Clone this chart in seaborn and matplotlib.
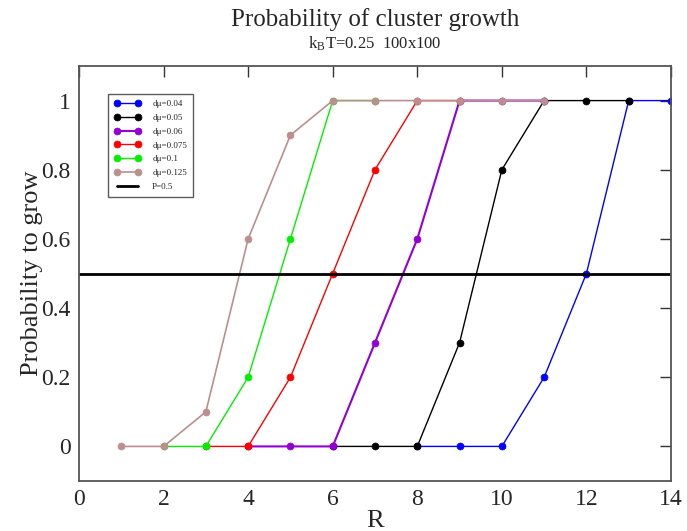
import matplotlib
matplotlib.use("Agg")
import matplotlib.pyplot as plt
import seaborn as sns
import pandas as pd
from matplotlib.ticker import MultipleLocator, FormatStrFormatter

labels = ["dμ=0.04", "dμ=0.05", "dμ=0.06", "dμ=0.075", "dμ=0.1", "dμ=0.125"]
colors = ["#0000ff", "#000000", "#9400d3", "#ff0000", "#00f000", "#bc8f8f"]

r_004 = [8, 9, 10, 11, 12, 13, 14]
p_004 = [0, 0, 0, 0.2, 0.5, 1, 1]
r_005 = [6, 7, 8, 9, 10, 11, 12, 13]
p_005 = [0, 0, 0, 0.3, 0.8, 1, 1, 1]
r_006 = [4, 5, 6, 7, 8, 9, 10, 11]
p_006 = [0, 0, 0, 0.3, 0.6, 1, 1, 1]
r_0075 = [3, 4, 5, 6, 7, 8, 9]
p_0075 = [0, 0, 0.2, 0.5, 0.8, 1, 1]
r_01 = [2, 3, 4, 5, 6, 7]
p_01 = [0, 0, 0.2, 0.6, 1, 1]
r_0125 = [1, 2, 3, 4, 5, 6, 7, 8, 9, 10, 11]
p_0125 = [0, 0, 0.1, 0.6, 0.9, 1, 1, 1, 1, 1, 1]

series_r = [r_004, r_005, r_006, r_0075, r_01, r_0125]
series_p = [p_004, p_005, p_006, p_0075, p_01, p_0125]

p_half = 0.5
x_range = [0, 14]

sns.set_style("white")
plt.rcParams['font.family'] = ['Liberation Serif', 'DejaVu Serif']
plt.rcParams['mathtext.fontset'] = 'stix'

fig = plt.figure(figsize=(6.87, 5.31), dpi=100)
ax = fig.add_axes([79 / 687, 1 - 481 / 531, 592 / 687, 415 / 531])

lws = [1.0, 1.0, 1.5, 1.0, 1.0, 1.2]
for lab, col, rr, pp, lw in zip(labels, colors, series_r, series_p, lws):
    df = pd.DataFrame({"R": rr, "P": pp})
    sns.lineplot(data=df, x="R", y="P", ax=ax, color=col, marker="o",
                 markersize=5, markeredgewidth=0.5, markeredgecolor=col,
                 linewidth=lw, label=lab)

sns.lineplot(x=x_range, y=[p_half, p_half], ax=ax, color="black",
             linewidth=2, label="P=0.5")

ax.set_xlim(0, 14)
ax.set_ylim(-0.1, 1.1)
ax.xaxis.set_major_locator(MultipleLocator(2))
ax.yaxis.set_major_locator(MultipleLocator(0.2))
ax.yaxis.set_major_formatter(FormatStrFormatter('%g'))
ax.xaxis.set_major_formatter(FormatStrFormatter('%g'))
ax.tick_params(direction='in', length=8, width=1, top=True, right=True,
               labelsize=17, color='#333333', pad=6)
for s in ax.spines.values():
    s.set_color('#555555')
    s.set_linewidth(1.3)

ax.set_xlabel("R", fontsize=19, labelpad=0)
ax.set_ylabel("Probability to grow", fontsize=19, labelpad=-1)

leg = ax.legend(loc='upper left', bbox_to_anchor=(0.049, 0.933), fontsize=6.5,
                frameon=True, fancybox=False, edgecolor='#333333',
                numpoints=2, handlelength=2.9, labelspacing=0.6,
                borderpad=0.7, handletextpad=1.3, borderaxespad=0)
leg.get_frame().set_linewidth(1.0)

cx = (79 + 296) / 687
fig.text(cx, 0.963, "Probability of cluster growth", ha='center', va='center', fontsize=18)
fig.text(cx, 0.917, r"k$_\mathregular{B}$T=0.25  100x100", ha='center', va='center', fontsize=12)

fig.savefig("out.png", dpi=100)
